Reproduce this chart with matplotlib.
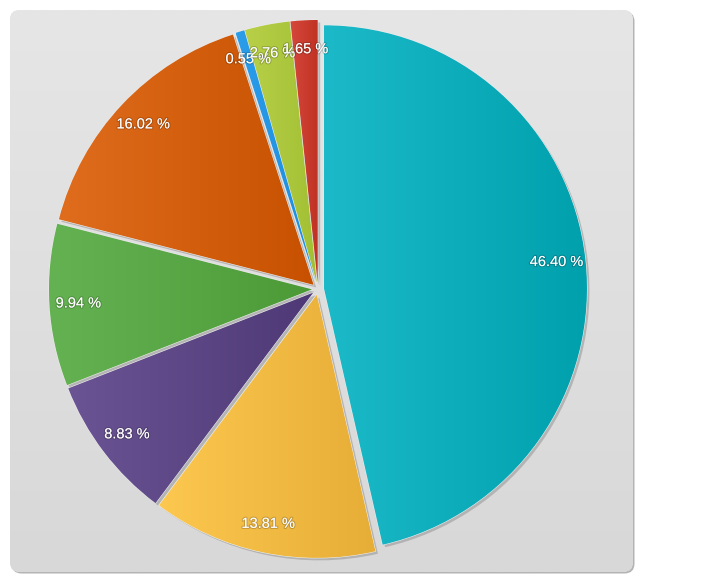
import matplotlib
matplotlib.use("Agg")
import matplotlib.pyplot as plt
import numpy as np
from matplotlib.patches import FancyBboxPatch, Wedge
from matplotlib.colors import LinearSegmentedColormap
import matplotlib.patheffects as pe

# slice values (percent), clockwise from 12 o'clock
values = [46.40, 13.81, 8.83, 9.94, 16.02, 0.55, 2.76, 1.65]
labels = ["46.40 %", "13.81 %", "8.83 %", "9.94 %", "16.02 %", "0.55 %", "2.76 %", "1.65 %"]

# gradient colours for each slice: lighter on the left, darker on the right
colors_left = ["#1cbac9", "#fdc84f", "#6b5494", "#65b253", "#df6d1d", "#2c9de9", "#b8d048", "#d6483b"]
colors_right = ["#00a0ad", "#e6ad37", "#4e3976", "#4b9a36", "#c75100", "#1b8dde", "#a2c034", "#bf3224"]

W, H = 720, 580
fig = plt.figure(figsize=(W / 100, H / 100), dpi=100)
fig.patch.set_facecolor("white")
ax = fig.add_axes([0, 0, 1, 1])

# background panel with rounded corners and vertical gradient
panel_shadow = FancyBboxPatch((11.5, 6.5), 623, 562, boxstyle="round,pad=0,rounding_size=10",
                              facecolor="#b4b4b4", edgecolor="none", zorder=0)
ax.add_patch(panel_shadow)
panel = FancyBboxPatch((10, 8), 623, 562, boxstyle="round,pad=0,rounding_size=10",
                       facecolor="#e0e0e0", edgecolor="none", zorder=1)
ax.add_patch(panel)
grad = np.linspace(0, 1, 256).reshape(-1, 1)
bg_cmap = LinearSegmentedColormap.from_list("bg", ["#d8d8d8", "#e6e6e6"])
bg = ax.imshow(grad, cmap=bg_cmap, extent=(10, 633, 8, 570), origin="lower",
               aspect="auto", zorder=1.5)
bg.set_clip_path(panel)

r = 263
# explode offset is in data units (pixels here)
explode = [6] * len(values)
wedges, texts, autotexts = ax.pie(
    values, explode=explode, startangle=90, counterclock=False,
    radius=r, center=(318, 291), colors=colors_left, frame=False,
    autopct="%.2f", pctdistance=0.89,
    wedgeprops=dict(edgecolor="none"),
)

for i, w in enumerate(wedges):
    w.set_zorder(3)
    # drop shadow
    sh = Wedge((w.center[0] + 2.5, w.center[1] - 2.5), w.r, w.theta1, w.theta2,
               facecolor="#9a9a9a", edgecolor="none", alpha=0.6, zorder=2)
    ax.add_patch(sh)
    # thin light rim
    w.set_edgecolor("#ededed")
    w.set_linewidth(0.8)
    ext = w.get_path().get_extents()
    cmap = LinearSegmentedColormap.from_list("s%d" % i, [colors_left[i], colors_right[i]])
    im = ax.imshow(np.linspace(0, 1, 256).reshape(1, -1), cmap=cmap,
                   extent=(ext.x0, ext.x1, ext.y0, ext.y1), origin="lower",
                   aspect="auto", zorder=3.5)
    im.set_clip_path(w)

for t, lab in zip(autotexts, labels):
    t.set_text(lab)
    t.set_color("white")
    t.set_fontsize(10.5)
    t.set_family(["Liberation Sans", "DejaVu Sans"])
    t.set_zorder(5)
    t.set_path_effects([pe.withStroke(linewidth=1.6, foreground=(0, 0, 0, 0.18))])

ax.set_xlim(0, W)
ax.set_ylim(0, H)
ax.set_aspect("equal")
ax.axis("off")

fig.savefig("out.png", dpi=100, facecolor="white")
